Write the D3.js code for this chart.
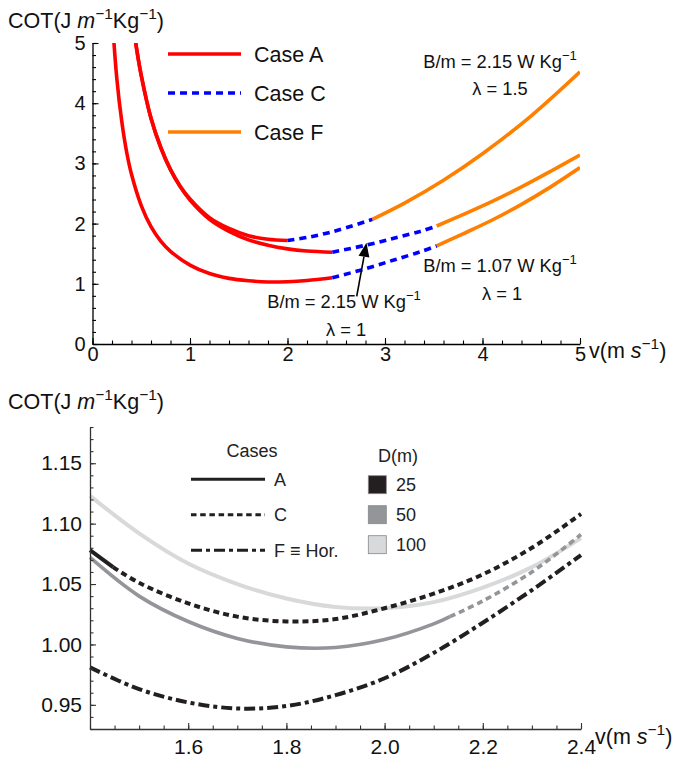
<!DOCTYPE html>
<html><head><meta charset="utf-8">
<script src="https://cdn.jsdelivr.net/npm/d3@7"></script>
<style>
body{margin:0;background:#fff;}
svg text{font-family:"Liberation Sans",Arial,Helvetica,sans-serif;}
</style></head><body>
<svg id="chart" width="677" height="757"></svg>
<script>
// ================= DATA: top panel =================
const topXTicks=[0,1,2,3,4,5];
const topYTicks=[0,1,2,3,4,5];
const topLegend=["Case A","Case C","Case F"];
// B/m = 2.15, lambda = 1.5
const hiRedV=[0.40,0.45,0.5,0.6,0.7,0.8,0.9,1.0,1.2,1.4,1.6,1.8,2.0];
const hiRedCOT=[5.52,4.93,4.46,3.75,3.27,2.90,2.62,2.41,2.10,1.92,1.80,1.74,1.72];
const hiBlueV=[2.0,2.2,2.4,2.6,2.87];
const hiBlueCOT=[1.72,1.77,1.84,1.93,2.07];
const hiOrangeV=[2.87,3.2,3.6,4.0,4.5,5.0];
const hiOrangeCOT=[2.07,2.34,2.72,3.16,3.79,4.52];
// B/m = 2.15, lambda = 1
const midRedV=[0.40,0.45,0.5,0.6,0.7,0.8,0.9,1.0,1.2,1.4,1.6,1.8,2.0,2.2,2.46];
const midRedCOT=[5.52,4.93,4.46,3.75,3.26,2.89,2.61,2.39,2.07,1.87,1.73,1.64,1.58,1.545,1.525];
const midBlueV=[2.46,2.8,3.1,3.36,3.53];
const midBlueCOT=[1.525,1.64,1.76,1.87,1.96];
const midOrangeV=[3.53,3.8,4.1,4.4,4.7,5.0];
const midOrangeCOT=[1.96,2.15,2.37,2.61,2.87,3.14];
// B/m = 1.07, lambda = 1
const loRedV=[0.20,0.25,0.3,0.35,0.4,0.5,0.6,0.7,0.8,1.0,1.2,1.4,1.6,1.8,2.0,2.2,2.46];
const loRedCOT=[5.47,4.40,3.70,3.19,2.82,2.30,1.95,1.71,1.54,1.31,1.17,1.09,1.05,1.03,1.035,1.055,1.10];
const loBlueV=[2.46,2.8,3.1,3.36,3.53];
const loBlueCOT=[1.10,1.25,1.40,1.53,1.63];
const loOrangeV=[3.53,3.8,4.1,4.4,4.7,5.0];
const loOrangeCOT=[1.63,1.83,2.06,2.32,2.61,2.93];
// annotation arrow (tail, tip) in data units
const arrowV=[2.71,2.81];
const arrowCOT=[0.79,1.68];

// ================= DATA: bottom panel =================
const botXTicks=[1.6,1.8,2.0,2.2,2.4];
const botYTicks=[0.95,1.00,1.05,1.10,1.15];
const caseLabels=["A","C","F ≡ Hor."];
const distLabels=["25","50","100"];
const vGrid=[1.4,1.5,1.6,1.7,1.8,1.9,2.0,2.1,2.2,2.3,2.4];
const d100A=[1.123,1.092,1.067,1.050,1.038,1.031,1.030,1.035,1.047,1.064,1.088];
const d50AV=[1.4,1.5,1.6,1.7,1.8,1.9,2.0,2.1,2.133];
const d50A=[1.072,1.040,1.019,1.005,0.998,0.9975,1.004,1.017,1.023];
const d50CV=[2.133,2.2,2.3,2.4];
const d50C=[1.023,1.036,1.060,1.091];
const d25AV=[1.4,1.447];
const d25A=[1.078,1.064];
const d25CV=[1.447,1.5,1.6,1.7,1.8,1.9,2.0,2.1,2.2,2.3,2.4];
const d25C=[1.064,1.051,1.034,1.023,1.019,1.021,1.030,1.042,1.058,1.080,1.108];
const hor=[0.981,0.963,0.952,0.947,0.949,0.958,0.972,0.993,1.018,1.045,1.074];

// ================= DRAWING =================
const svg=d3.select("#chart");
const RED="#ff0000", BLUE="#0000ff", ORANGE="#ff8000";
const C25="#231f20", C50="#939598", C100="#d8d9da";

function rich(g,x,y,parts,size,anchor){
  const t=g.append("text").attr("x",x).attr("y",y).attr("font-size",size)
    .attr("text-anchor",anchor||"start").attr("fill","#111");
  let shift=0;
  parts.forEach(p=>{
    const s=t.append("tspan").text(p.t);
    const target=p.sup?-size*0.42:0;
    if(target!==shift){s.attr("dy",target-shift);shift=target;}
    if(p.sup)s.attr("font-size",size*0.72);
    if(p.i)s.attr("font-style","italic");
  });
  return t;
}
function zip(a,b){return a.map((v,i)=>[v,b[i]]);}
function range(a,b,s){const r=[];for(let v=a;v<=b+1e-9;v+=s)r.push(+v.toFixed(4));return r;}
function styleAxis(g,col){g.select(".domain").attr("stroke",col).attr("stroke-width",1.3);
  g.selectAll(".tick line").attr("stroke",col).attr("stroke-width",1.1);
  g.selectAll(".tick text").attr("fill","#111");}
const CURVE=d3.curveCatmullRom.alpha(0.5);

// ---------- top panel ----------
const xT=d3.scaleLinear().domain([0,5]).range([92.5,580]);
const yT=d3.scaleLinear().domain([0,5]).range([344,43]);
const gTop=svg.append("g");
gTop.append("clipPath").attr("id","clipT").append("rect")
  .attr("x",xT(0)).attr("y",yT(5)).attr("width",xT(5)-xT(0)).attr("height",yT(0)-yT(5));
const lineT=d3.line().x(d=>xT(d[0])).y(d=>yT(d[1])).curve(CURVE);
const plotT=gTop.append("g").attr("clip-path","url(#clipT)");
const topSeries=[
  [hiRedV,hiRedCOT,RED,null],[midRedV,midRedCOT,RED,null],[loRedV,loRedCOT,RED,null],
  [hiOrangeV,hiOrangeCOT,ORANGE,null],[midOrangeV,midOrangeCOT,ORANGE,null],[loOrangeV,loOrangeCOT,ORANGE,null],
  [hiBlueV,hiBlueCOT,BLUE,"7,5"],[midBlueV,midBlueCOT,BLUE,"7,5"],[loBlueV,loBlueCOT,BLUE,"7,5"]
];
topSeries.forEach(s=>{
  plotT.append("path").datum(zip(s[0],s[1])).attr("d",lineT).attr("fill","none")
    .attr("stroke",s[2]).attr("stroke-width",3.6).attr("stroke-dasharray",s[3]);
});
const axXT=gTop.append("g").attr("transform",`translate(0,${yT(0)})`)
  .call(d3.axisBottom(xT).tickValues(topXTicks).tickSize(-6).tickSizeOuter(0).tickPadding(3).tickFormat(d3.format("d")));
axXT.attr("font-size",20).attr("font-family",null);styleAxis(axXT,"#000");
const axXTm=gTop.append("g").attr("transform",`translate(0,${yT(0)})`)
  .call(d3.axisBottom(xT).tickValues(range(0,5,0.2)).tickSize(-3.5).tickFormat(""));
axXTm.select(".domain").remove();styleAxis(axXTm,"#000");
const axYT=gTop.append("g").attr("transform",`translate(${xT(0)},0)`)
  .call(d3.axisLeft(yT).tickValues(topYTicks).tickSize(-6).tickSizeOuter(0).tickPadding(7).tickFormat(d3.format("d")));
axYT.attr("font-size",20).attr("font-family",null);styleAxis(axYT,"#000");
const axYTm=gTop.append("g").attr("transform",`translate(${xT(0)},0)`)
  .call(d3.axisLeft(yT).tickValues(range(0,5,0.2)).tickSize(-3.5).tickFormat(""));
axYTm.select(".domain").remove();styleAxis(axYTm,"#000");
rich(gTop,8,28,[{t:"COT(J "},{t:"m",i:true},{t:"−1",sup:true},{t:"Kg"},{t:"−1",sup:true},{t:")"}],21.5);
rich(gTop,589,358,[{t:"v(m "},{t:"s",i:true},{t:"−1",sup:true},{t:")"}],21.5);
const legCols=[[RED,null],[BLUE,"7,5"],[ORANGE,null]];
topLegend.forEach((lab,i)=>{
  const y=54+i*39;
  gTop.append("line").attr("x1",168).attr("x2",241).attr("y1",y).attr("y2",y)
    .attr("stroke",legCols[i][0]).attr("stroke-width",3.6).attr("stroke-dasharray",legCols[i][1]);
  gTop.append("text").attr("x",254).attr("y",y+8).attr("font-size",21.5).attr("fill","#111").text(lab);
});
const ann=[
  [4.18,4.585,[{t:"B/m = 2.15 W Kg"},{t:"−1",sup:true}]],
  [4.18,4.14,[{t:"λ = 1.5"}]],
  [4.18,1.20,[{t:"B/m = 1.07 W Kg"},{t:"−1",sup:true}]],
  [4.2,0.73,[{t:"λ = 1"}]],
  [2.58,0.60,[{t:"B/m = 2.15 W Kg"},{t:"−1",sup:true}]],
  [2.6,0.13,[{t:"λ = 1"}]]
];
ann.forEach(a=>rich(gTop,xT(a[0]),yT(a[1]),a[2],18.3,"middle"));
{
  const x1=xT(arrowV[0]),y1=yT(arrowCOT[0]),x2=xT(arrowV[1]),y2=yT(arrowCOT[1]);
  const ang=Math.atan2(y2-y1,x2-x1),L=14,W=5.5;
  const bx=x2-L*Math.cos(ang),by=y2-L*Math.sin(ang);
  gTop.append("line").attr("x1",x1).attr("y1",y1).attr("x2",bx).attr("y2",by).attr("stroke","#000").attr("stroke-width",1.6);
  const px=-Math.sin(ang),py=Math.cos(ang);
  gTop.append("path").attr("d",`M${x2},${y2}L${bx+W*px},${by+W*py}L${bx-W*px},${by-W*py}Z`).attr("fill","#000");
}

// ---------- bottom panel ----------
const xB=d3.scaleLinear().domain([1.4,2.4]).range([90,581]);
const yB=d3.scaleLinear().domain([0.93,1.18]).range([729,427]);
const gBot=svg.append("g");
const lineB=d3.line().x(d=>xB(d[0])).y(d=>yB(d[1])).curve(CURVE);
const botSeries=[
  [vGrid,d100A,C100,null,4],
  [d50AV,d50A,C50,null,3.6],[d50CV,d50C,C50,"6,4",3.6],
  [d25AV,d25A,C25,null,4],[d25CV,d25C,C25,"6,4",4],
  [vGrid,hor,C25,"11,4,4,4",4]
];
botSeries.forEach(s=>{
  gBot.append("path").datum(zip(s[0],s[1])).attr("d",lineB).attr("fill","none")
    .attr("stroke",s[2]).attr("stroke-width",s[4]).attr("stroke-dasharray",s[3]);
});
const axXB=gBot.append("g").attr("transform",`translate(0,${yB(0.93)})`)
  .call(d3.axisBottom(xB).tickValues(botXTicks).tickSize(-6).tickSizeOuter(0).tickPadding(10).tickFormat(d3.format(".1f")));
axXB.attr("font-size",21).attr("font-family",null);styleAxis(axXB,"#333");
const axXBm=gBot.append("g").attr("transform",`translate(0,${yB(0.93)})`)
  .call(d3.axisBottom(xB).tickValues(range(1.4,2.4,0.05)).tickSize(-3.5).tickFormat(""));
axXBm.select(".domain").remove();styleAxis(axXBm,"#333");
const axYB=gBot.append("g").attr("transform",`translate(${xB(1.4)},0)`)
  .call(d3.axisLeft(yB).tickValues(botYTicks).tickSize(-6).tickSizeOuter(0).tickPadding(8).tickFormat(d3.format(".2f")));
axYB.attr("font-size",21).attr("font-family",null);styleAxis(axYB,"#333");
const axYBm=gBot.append("g").attr("transform",`translate(${xB(1.4)},0)`)
  .call(d3.axisLeft(yB).tickValues(range(0.93,1.18,0.01)).tickSize(-3.5).tickFormat(""));
axYBm.select(".domain").remove();styleAxis(axYBm,"#333");
rich(gBot,8,409,[{t:"COT(J "},{t:"m",i:true},{t:"−1",sup:true},{t:"Kg"},{t:"−1",sup:true},{t:")"}],21.5);
rich(gBot,595,744,[{t:"v(m "},{t:"s",i:true},{t:"−1",sup:true},{t:")"}],21.5);
gBot.append("text").attr("x",252).attr("y",457).attr("text-anchor","middle").attr("font-size",18).attr("fill","#222").text("Cases");
const caseDash=[null,"5.5,3.7","11,4,4,4"];
caseLabels.forEach((lab,i)=>{
  const y=479.3+i*35.5;
  gBot.append("line").attr("x1",191).attr("x2",265).attr("y1",y).attr("y2",y)
    .attr("stroke",C25).attr("stroke-width",3).attr("stroke-dasharray",caseDash[i]);
  gBot.append("text").attr("x",274).attr("y",y+6.5).attr("font-size",18).attr("fill","#222").text(lab);
});
gBot.append("text").attr("x",378).attr("y",462).attr("font-size",18).attr("fill","#222").text("D(m)");
const distCols=[C25,C50,C100];
distLabels.forEach((lab,i)=>{
  const y=475.7+i*30;
  gBot.append("rect").attr("x",368.3).attr("y",y).attr("width",18).attr("height",18)
    .attr("fill",distCols[i]).attr("stroke","#888").attr("stroke-width",0.8);
  gBot.append("text").attr("x",396).attr("y",y+15.5).attr("font-size",18).attr("fill","#222").text(lab);
});
</script>
</body></html>
